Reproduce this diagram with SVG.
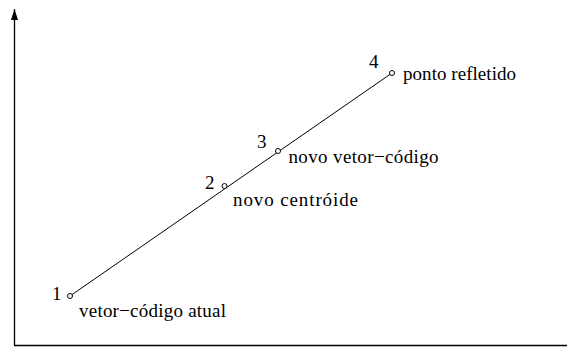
<svg xmlns="http://www.w3.org/2000/svg" width="567" height="349" viewBox="0 0 567 349">
<style>
.lbl{font-family:'Liberation Serif','Times New Roman',serif;font-size:19px;fill:#000}
.pt{fill:#fff;stroke:#000;stroke-width:1}
</style>
<defs>
<marker id="ah" markerWidth="12" markerHeight="8" refX="11" refY="4" orient="auto" markerUnits="userSpaceOnUse" viewBox="0 0 12 8">
<path d="M0,0.5 L11,4 L0,7.5 Z" fill="#000"/>
</marker>
</defs>
<g id="axes">
<line x1="14.5" y1="345.5" x2="14.5" y2="9" stroke="#000" stroke-width="1.3" marker-end="url(#ah)"/>
<line x1="14" y1="345.5" x2="567" y2="345.5" stroke="#000" stroke-width="1.3"/>
</g>
<g id="connectors">
<line x1="70" y1="296" x2="392" y2="73" stroke="#000" stroke-width="1"/>
</g>
<g id="p1">
<circle class="pt" cx="70" cy="296" r="2.5"/>
<text class="lbl" x="52" y="300">1</text>
<text class="lbl" x="79" y="317" textLength="147" lengthAdjust="spacing">vetor−código atual</text>
</g>
<g id="p2">
<circle class="pt" cx="224.5" cy="186" r="2.5"/>
<text class="lbl" x="205" y="189">2</text>
<text class="lbl" x="233" y="206" textLength="125" lengthAdjust="spacing">novo centróide</text>
</g>
<g id="p3">
<circle class="pt" cx="278" cy="151" r="2.5"/>
<text class="lbl" x="257" y="148">3</text>
<text class="lbl" x="288.5" y="163" textLength="150" lengthAdjust="spacing">novo vetor−código</text>
</g>
<g id="p4">
<circle class="pt" cx="392" cy="73" r="2.5"/>
<text class="lbl" x="369" y="68">4</text>
<text class="lbl" x="403" y="80" textLength="113" lengthAdjust="spacing">ponto refletido</text>
</g>
</svg>
